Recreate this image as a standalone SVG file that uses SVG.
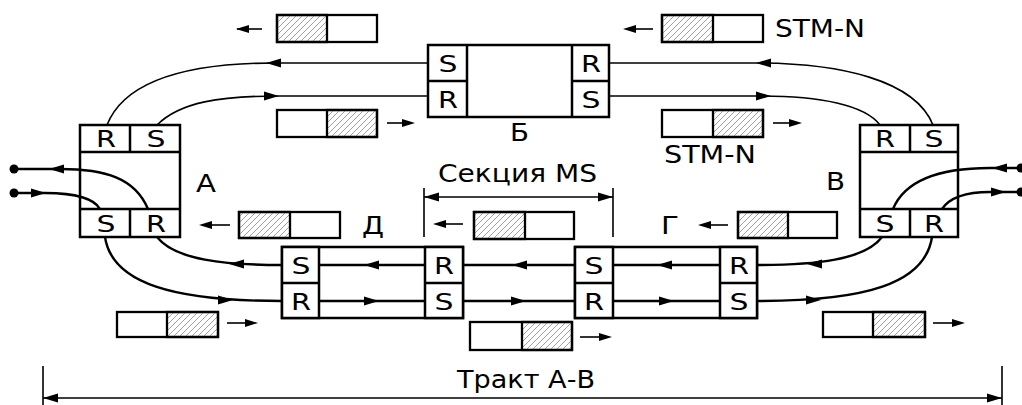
<svg xmlns="http://www.w3.org/2000/svg" width="1022" height="405" viewBox="0 0 1022 405">
<defs>
<pattern id="hatch" patternUnits="userSpaceOnUse" width="6" height="6">
<path d="M-1,1 l2,-2 M0,6 l6,-6 M5,7 l2,-2" stroke="#888" stroke-width="0.8"/>
</pattern>
<path id="ah" d="M0,0 L-15,-4.5 L-15,4.5 Z" fill="#000"/>
<path id="sa" d="M0,0 L-13,-4 L-13,4 Z" fill="#000"/>
</defs>
<style>
.box{fill:#fff;stroke:#000;stroke-width:2.5}
.nb{fill:none;stroke:#000;stroke-width:2.5}
.ln{fill:none;stroke:#000;stroke-width:1.6}
.tk{fill:none;stroke:#000;stroke-width:2.4}
.pk{fill:#fff;stroke:#000;stroke-width:2.3}
.hp{fill:url(#hatch);stroke:#000;stroke-width:2.3}
.t{font-family:"DejaVu Sans","Liberation Sans",sans-serif;font-size:24px;fill:#000}
.c{font-family:"DejaVu Sans","Liberation Sans",sans-serif;font-size:23px;fill:#000;text-anchor:middle}
</style>
<rect width="1022" height="405" fill="#fff"/>

<g id="connectors">
<path class="ln" d="M107,125 C125,80 190,63 275,63 L428,63"/>
<path class="ln" d="M157,125 C180,102 220,96 280,96 L428,96"/>
<path class="ln" d="M609,63 L755,63 C840,63 915,80 933,125"/>
<path class="ln" d="M609,96 L760,96 C820,96 865,105 880,125"/>
<use href="#ah" transform="translate(266,63) scale(-1,1)"/>
<use href="#ah" transform="translate(279,96)"/>
<use href="#ah" transform="translate(756,63) scale(-1,1)"/>
<use href="#ah" transform="translate(771,96)"/>
<path class="tk" d="M148,209 C135,178 105,169 60,169 L14,169"/>
<path class="tk" d="M14,193 L45,193 C78,193 95,200 100,209"/>
<circle cx="14" cy="169" r="4.5"/>
<circle cx="14" cy="193" r="4.5"/>
<use href="#ah" transform="translate(49,169) scale(-1,1)"/>
<use href="#ah" transform="translate(46,193)"/>
<path class="tk" d="M893,209 C905,180 940,168 990,168 L1022,168"/>
<path class="tk" d="M1022,192 L990,192 C968,192 950,197 942,209"/>
<circle cx="1021" cy="168" r="4.5"/>
<circle cx="1021" cy="192" r="4.5"/>
<use href="#ah" transform="translate(992,168) scale(-1,1)"/>
<use href="#ah" transform="translate(1006,192)"/>
<path class="tk" d="M157,237 C175,260 225,265 282,265"/>
<path class="tk" d="M105,237 C112,284 175,301 282,301"/>
<path class="tk" d="M882,237 C865,260 815,265 757,265"/>
<path class="tk" d="M932,237 C925,284 865,301 757,301"/>
<use href="#ah" transform="translate(229,264) scale(-1,1)"/>
<use href="#ah" transform="translate(233,300)"/>
<use href="#ah" transform="translate(807,264) scale(-1,1)"/>
<use href="#ah" transform="translate(821,300)"/>
<path class="tk" d="M282,265 L757,265 M282,301 L757,301"/>
<use href="#ah" transform="translate(364,265) scale(-1,1)"/>
<use href="#ah" transform="translate(512,265) scale(-1,1)"/>
<use href="#ah" transform="translate(657,265) scale(-1,1)"/>
<use href="#ah" transform="translate(379,301)"/>
<use href="#ah" transform="translate(526,301)"/>
<use href="#ah" transform="translate(674,301)"/>
</g>

<g id="node-A">
<rect x="80" y="125" width="100" height="112" style="fill:none;stroke:#000;stroke-width:2.5"/>
<path class="nb" d="M80,152 H180 M130,125 V152 M80,209 H180 M130,209 V237"/>
<text class="c" x="106" y="147" textLength="20" lengthAdjust="spacingAndGlyphs">R</text>
<text class="c" x="156" y="147" textLength="19" lengthAdjust="spacingAndGlyphs">S</text>
<text class="c" x="106" y="232" textLength="19" lengthAdjust="spacingAndGlyphs">S</text>
<text class="c" x="156" y="232" textLength="20" lengthAdjust="spacingAndGlyphs">R</text>
<text class="t" x="196" y="192" textLength="20" lengthAdjust="spacingAndGlyphs">А</text>
</g>

<g id="node-V">
<rect x="860" y="125" width="98" height="112" style="fill:none;stroke:#000;stroke-width:2.5"/>
<path class="nb" d="M860,152 H958 M910,125 V152 M860,209 H958 M910,209 V237"/>
<text class="c" x="885" y="147" textLength="20" lengthAdjust="spacingAndGlyphs">R</text>
<text class="c" x="934" y="147" textLength="19" lengthAdjust="spacingAndGlyphs">S</text>
<text class="c" x="885" y="232" textLength="19" lengthAdjust="spacingAndGlyphs">S</text>
<text class="c" x="934" y="232" textLength="20" lengthAdjust="spacingAndGlyphs">R</text>
<text class="t" x="826" y="190" textLength="19" lengthAdjust="spacingAndGlyphs">В</text>
</g>

<g id="node-B">
<rect class="box" x="428" y="45" width="181" height="72"/>
<path class="nb" d="M467,45 V117 M572,45 V117 M428,81 H467 M572,81 H609"/>
<text class="c" x="448" y="72" textLength="19" lengthAdjust="spacingAndGlyphs">S</text>
<text class="c" x="448" y="108" textLength="20" lengthAdjust="spacingAndGlyphs">R</text>
<text class="c" x="591" y="72" textLength="20" lengthAdjust="spacingAndGlyphs">R</text>
<text class="c" x="591" y="108" textLength="19" lengthAdjust="spacingAndGlyphs">S</text>
<text class="t" x="510" y="141" textLength="19" lengthAdjust="spacingAndGlyphs">Б</text>
</g>

<g id="node-D">
<rect x="282" y="247" width="181" height="71" style="fill:none;stroke:#000;stroke-width:2.5"/>
<rect class="box" x="282" y="247" width="37" height="71"/>
<rect class="box" x="425" y="247" width="38" height="71"/>
<path class="nb" d="M282,283 H319 M425,283 H463"/>
<text class="c" x="301" y="274" textLength="19" lengthAdjust="spacingAndGlyphs">S</text>
<text class="c" x="301" y="310" textLength="20" lengthAdjust="spacingAndGlyphs">R</text>
<text class="c" x="444" y="274" textLength="20" lengthAdjust="spacingAndGlyphs">R</text>
<text class="c" x="444" y="310" textLength="19" lengthAdjust="spacingAndGlyphs">S</text>
<text class="t" x="362" y="234" textLength="22" lengthAdjust="spacingAndGlyphs">Д</text>
</g>

<g id="node-G">
<rect x="575" y="247" width="182" height="71" style="fill:none;stroke:#000;stroke-width:2.5"/>
<rect class="box" x="575" y="247" width="38" height="71"/>
<rect class="box" x="720" y="247" width="37" height="71"/>
<path class="nb" d="M575,283 H613 M720,283 H757"/>
<text class="c" x="594" y="274" textLength="19" lengthAdjust="spacingAndGlyphs">S</text>
<text class="c" x="594" y="310" textLength="20" lengthAdjust="spacingAndGlyphs">R</text>
<text class="c" x="739" y="274" textLength="20" lengthAdjust="spacingAndGlyphs">R</text>
<text class="c" x="739" y="310" textLength="19" lengthAdjust="spacingAndGlyphs">S</text>
<text class="t" x="661" y="234" textLength="18" lengthAdjust="spacingAndGlyphs">Г</text>
</g>

<g id="packets">
<rect class="pk" x="277" y="15" width="100" height="27"/><rect class="hp" x="277" y="15" width="50" height="27"/>
<path class="ln" d="M237,29 H262"/><use href="#sa" transform="translate(236,29) scale(-1,1)"/>
<rect class="pk" x="662" y="15" width="101" height="27"/><rect class="hp" x="662" y="15" width="51" height="27"/>
<path class="ln" d="M628,29 H653"/><use href="#sa" transform="translate(623,29) scale(-1,1)"/>
<rect class="pk" x="277" y="110" width="100" height="27"/><rect class="hp" x="327" y="110" width="50" height="27"/>
<path class="ln" d="M387,123 H410"/><use href="#sa" transform="translate(415,123)"/>
<rect class="pk" x="662" y="110" width="101" height="27"/><rect class="hp" x="713" y="110" width="50" height="27"/>
<path class="ln" d="M773,123 H797"/><use href="#sa" transform="translate(802,123)"/>
<rect class="pk" x="239" y="212" width="101" height="26"/><rect class="hp" x="239" y="212" width="51" height="26"/>
<path class="ln" d="M204,225 H230"/><use href="#sa" transform="translate(199,225) scale(-1,1)"/>
<rect class="pk" x="474" y="212" width="100" height="27"/><rect class="hp" x="474" y="212" width="51" height="27"/>
<path class="ln" d="M438,224 H463"/><use href="#sa" transform="translate(433,224) scale(-1,1)"/>
<rect class="pk" x="738" y="212" width="99" height="26"/><rect class="hp" x="738" y="212" width="50" height="26"/>
<path class="ln" d="M703,225 H728"/><use href="#sa" transform="translate(698,225) scale(-1,1)"/>
<rect class="pk" x="117" y="312" width="101" height="25"/><rect class="hp" x="167" y="312" width="51" height="25"/>
<path class="ln" d="M227,323 H253"/><use href="#sa" transform="translate(258,323)"/>
<rect class="pk" x="470" y="322" width="102" height="28"/><rect class="hp" x="522" y="322" width="50" height="28"/>
<path class="ln" d="M580,337 H607"/><use href="#sa" transform="translate(612,337)"/>
<rect class="pk" x="823" y="312" width="102" height="25"/><rect class="hp" x="873" y="312" width="52" height="25"/>
<path class="ln" d="M933,323 H960"/><use href="#sa" transform="translate(965,323)"/>
</g>

<g id="labels">
<text class="t" x="775" y="37" textLength="90" lengthAdjust="spacingAndGlyphs">STM-N</text>
<text class="t" x="664" y="163" textLength="92" lengthAdjust="spacingAndGlyphs">STM-N</text>
<text class="t" x="438" y="182" textLength="159" lengthAdjust="spacingAndGlyphs">Секция MS</text>
<text class="t" x="457" y="388" textLength="138" lengthAdjust="spacingAndGlyphs">Тракт А-В</text>
</g>

<g id="dimensions">
<path class="ln" d="M424,188 V237 M613,188 V237 M424,197 H613"/>
<use href="#ah" transform="translate(424,197) scale(-1,1)"/>
<use href="#ah" transform="translate(613,197)"/>
<path class="ln" d="M43,366 V405 M1002,366 V405 M43,398 H1002"/>
<use href="#ah" transform="translate(43,398) scale(-1,1)"/>
<use href="#ah" transform="translate(1002,398)"/>
</g>
</svg>
